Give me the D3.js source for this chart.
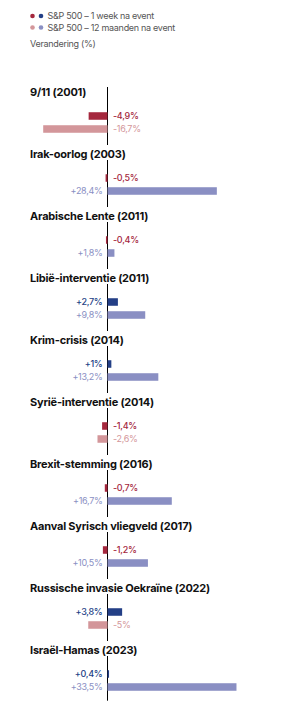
<!DOCTYPE html>
<html>
<head>
<meta charset="utf-8">
<script src="https://cdn.jsdelivr.net/npm/d3@7"></script>
<style>
  html, body { margin: 0; padding: 0; background: #fff; }
  svg { display: block; font-family: Inter, "Noto Sans", sans-serif; }
</style>
</head>
<body>
<svg id="chart" width="291" height="723"></svg>
<script>
const events = ["9/11 (2001)", "Irak-oorlog (2003)", "Arabische Lente (2011)", "Libië-interventie (2011)", "Krim-crisis (2014)", "Syrië-interventie (2014)", "Brexit-stemming (2016)", "Aanval Syrisch vliegveld (2017)", "Russische invasie Oekraïne (2022)", "Israël-Hamas (2023)"];
const weekValues = [-4.9, -0.5, -0.4, 2.7, 1, -1.4, -0.7, -1.2, 3.8, 0.4];
const yearValues = [-16.7, 28.4, 1.8, 9.8, 13.2, -2.6, 16.7, 10.5, -5, 33.5];
const seriesNames = ["S&P 500 – 1 week na event", "S&P 500 – 12 maanden na event"];
const axisTitle = "Verandering (%)";

const colors = {
  week: { neg: "#a5283e", pos: "#233f86" },
  year: { neg: "#d3969a", pos: "#8a8fc3" }
};

const svg = d3.select("#chart");

// Legend
const legend = svg.append("g");
const legendRows = [["week", seriesNames[0]], ["year", seriesNames[1]]];
legendRows.forEach(([key, name], i) => {
  const y = 16 + i * 11.5;
  legend.append("circle").attr("cx", 32.5).attr("cy", y).attr("r", 2.3).attr("fill", colors[key].neg);
  legend.append("circle").attr("cx", 41).attr("cy", y).attr("r", 2.3).attr("fill", colors[key].pos);
  legend.append("text").attr("x", 47.5).attr("y", y).attr("dy", "0.35em")
    .attr("font-size", 9).attr("letter-spacing", "-0.3px").attr("fill", "#555").text(name);
});
legend.append("text").attr("x", 30).attr("y", 43.5).attr("dy", "0.35em")
  .attr("font-size", 9).attr("letter-spacing", "-0.3px").attr("fill", "#555").text(axisTitle);

// Scales
const x = d3.scaleLinear().domain([-20, 40]).range([107.5 - 77, 107.5 + 154]);
const yGroup = d3.scaleBand().domain(events).range([61, 681]).paddingInner(0).paddingOuter(0);
const yInner = d3.scaleBand().domain(["week", "year"]).range([0, 26]).paddingInner(0.42).paddingOuter(0.21);
const titleOffset = 31;
const barsOffset = 48.5;

const fmt = v => (v > 0 ? "+" : "-") + String(Math.abs(v)).replace(".", ",") + "%";

// Zero line
svg.append("line")
  .attr("x1", x(0)).attr("x2", x(0))
  .attr("y1", 87).attr("y2", 700.7)
  .attr("stroke", "#000").attr("stroke-width", 1);

const groups = svg.selectAll("g.grp").data(events).join("g")
  .attr("class", "grp")
  .attr("transform", d => `translate(0,${yGroup(d)})`);

groups.each(function(ev, i) {
  const g = d3.select(this);
  const rows = [
    { key: "week", v: weekValues[i] },
    { key: "year", v: yearValues[i] }
  ];
  rows.forEach(r => {
    const y0 = barsOffset + yInner(r.key);
    const h = yInner.bandwidth();
    const col = r.v < 0 ? colors[r.key].neg : colors[r.key].pos;
    g.append("rect")
      .attr("x", Math.min(x(0), x(r.v)))
      .attr("y", y0)
      .attr("width", Math.abs(x(r.v) - x(0)))
      .attr("height", h)
      .attr("fill", col);
    g.append("text")
      .attr("x", r.v < 0 ? x(0) + 5.5 : x(0) - 5)
      .attr("y", y0 + h / 2)
      .attr("dy", "0.35em")
      .attr("text-anchor", r.v < 0 ? "start" : "end")
      .attr("font-size", 9)
      .attr("letter-spacing", "-0.3px")
      .attr("font-weight", r.key === "week" ? 500 : 400)
      .attr("fill", col)
      .text(fmt(r.v));
  });
  const t = g.append("text")
    .attr("x", 30)
    .attr("y", titleOffset)
    .attr("dy", "0.35em")
    .attr("font-size", 11)
    .attr("font-weight", 700)
    .attr("letter-spacing", "-0.2px")
    .attr("fill", "#111")
    .text(ev);
  const bb = t.node().getBBox();
  g.insert("rect", "text")
    .attr("x", bb.x - 1)
    .attr("y", titleOffset - 9)
    .attr("width", bb.width + 2)
    .attr("height", 15)
    .attr("fill", "#fff");
});
</script>
</body>
</html>
